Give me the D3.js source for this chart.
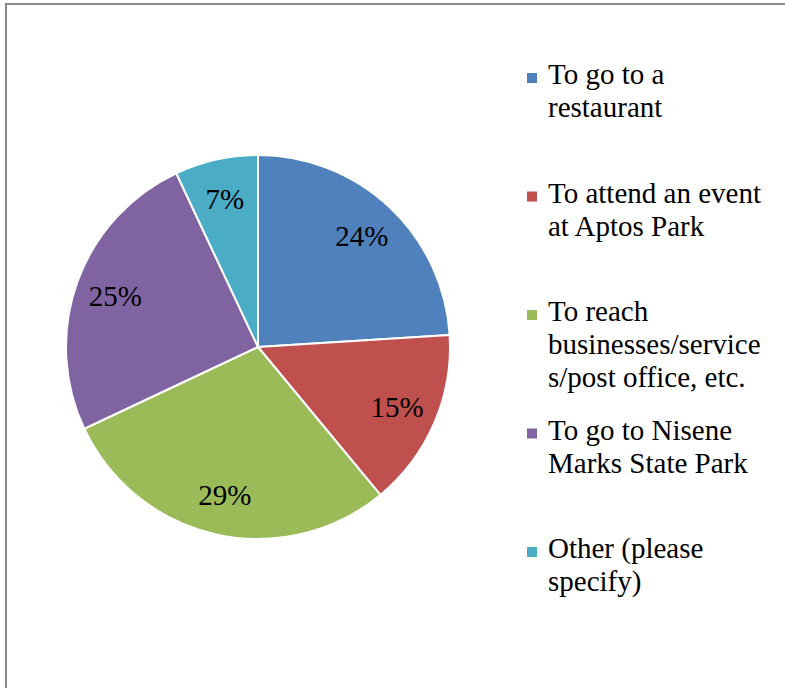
<!DOCTYPE html>
<html>
<head>
<meta charset="utf-8">
<script src="https://cdn.jsdelivr.net/npm/d3@7"></script>
</head>
<body style="margin:0">
<svg id="chart" width="785" height="688"></svg>
<script>
// Reasons for the trip, share of respondents (%)
const categories = [
  "To go to a restaurant",
  "To attend an event at Aptos Park",
  "To reach businesses/services/post office, etc.",
  "To go to Nisene Marks State Park",
  "Other (please specify)"
];
const values = [24, 15, 29, 25, 7];
const valueLabels = ["24%", "15%", "29%", "25%", "7%"];
// Wrapped legend lines, as laid out in the legend box
const legendLines = [
  ["To go to a", "restaurant"],
  ["To attend an event", "at Aptos Park"],
  ["To reach", "businesses/service", "s/post office, etc."],
  ["To go to Nisene", "Marks State Park"],
  ["Other (please", "specify)"]
];
const colors = ["#4F81BD", "#C0504D", "#9BBB59", "#8064A2", "#4BACC6"];

const svg = d3.select("#chart")
  .style("display", "block")
  .style("font-family", '"Liberation Serif"');

// Chart frame (continues past the right and bottom edges)
svg.append("rect")
  .attr("x", 6).attr("y", 4)
  .attr("width", 820).attr("height", 720)
  .attr("fill", "none")
  .attr("stroke", "#8a8a8a")
  .attr("stroke-width", 2);

const cx = 258, cy = 347, R = 192;
const color = d3.scaleOrdinal().domain(categories).range(colors);

const pie = d3.pie().sort(null).value(d => d.value);
const data = categories.map((c, i) => ({ name: c, value: values[i], label: valueLabels[i] }));
const arcs = pie(data);

const arc = d3.arc().innerRadius(0).outerRadius(R);
const labelArc = d3.arc().innerRadius(R * 0.79).outerRadius(R * 0.79);

const g = svg.append("g").attr("transform", `translate(${cx},${cy})`);

g.selectAll("path.slice")
  .data(arcs)
  .join("path")
  .attr("class", "slice")
  .attr("d", arc)
  .attr("fill", d => color(d.data.name))
  .attr("stroke", "#fff")
  .attr("stroke-width", 2)
  .attr("stroke-linejoin", "round");

g.selectAll("text.pct")
  .data(arcs)
  .join("text")
  .attr("class", "pct")
  .attr("x", d => labelArc.centroid(d)[0])
  .attr("y", d => labelArc.centroid(d)[1] + 10)
  .attr("text-anchor", "middle")
  .attr("font-size", 29)
  .style("font-family", '"Liberation Serif"')
  .text(d => d.data.label);

// Legend
const legendX = 527, firstBaseline = 84, entryGap = 118.5, lineGap = 33;
const legend = svg.append("g");
legendLines.forEach((lines, i) => {
  const base = firstBaseline + i * entryGap;
  legend.append("rect")
    .attr("x", legendX).attr("y", base - 11)
    .attr("width", 10).attr("height", 10)
    .attr("fill", colors[i]);
  legend.selectAll(null)
    .data(lines)
    .join("text")
    .attr("x", legendX + 21)
    .attr("y", (d, j) => base + j * lineGap)
    .attr("font-size", 29)
    .style("font-family", '"Liberation Serif"')
    .text(d => d);
});
</script>
</body>
</html>
